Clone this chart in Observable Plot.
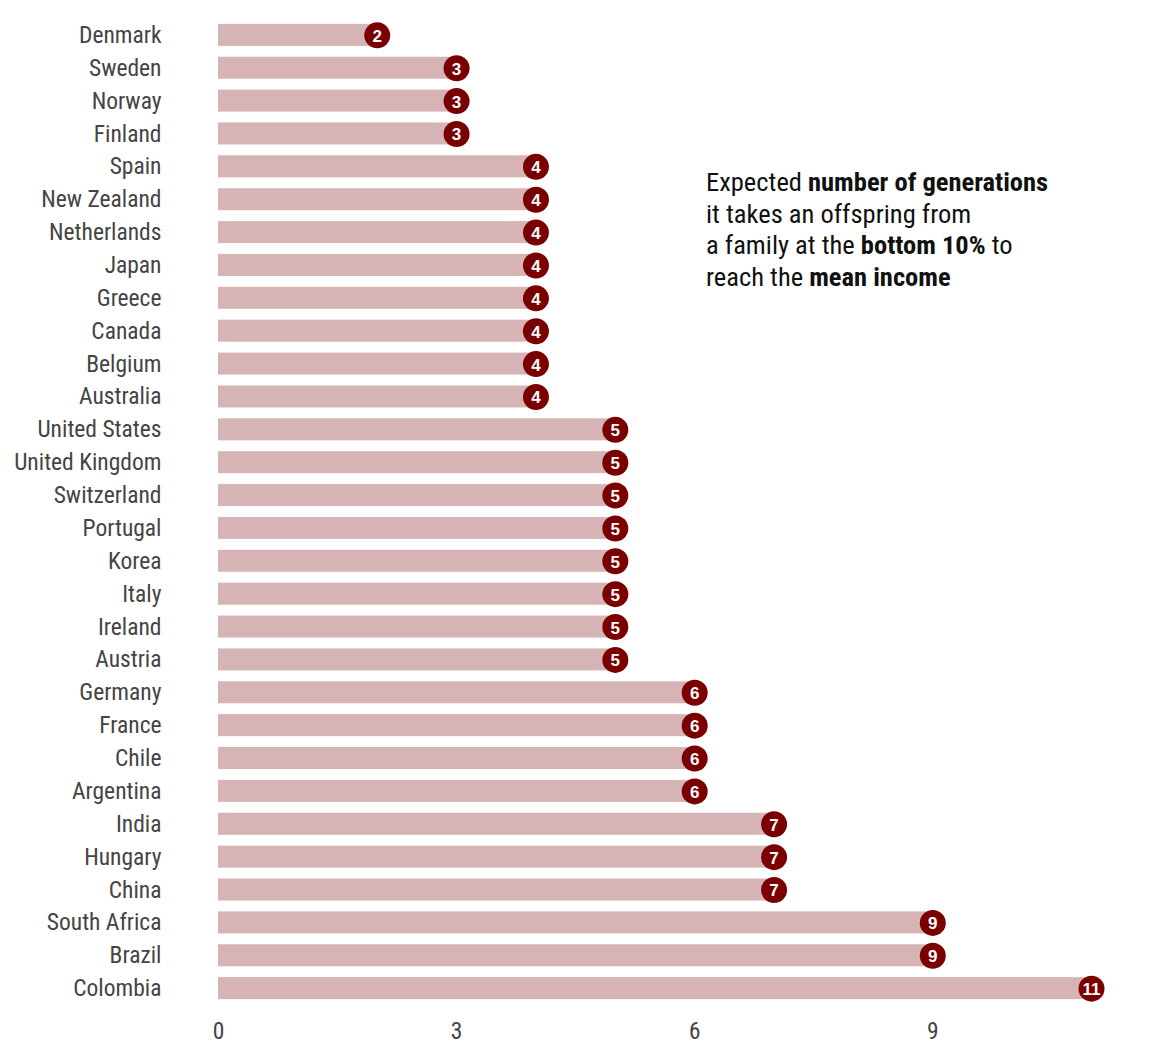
<!DOCTYPE html>
<html>
<head>
<meta charset="utf-8">
<script src="https://cdn.jsdelivr.net/npm/d3@7"></script>
<script src="https://cdn.jsdelivr.net/npm/@observablehq/plot@0.6"></script>
<style>
  body { margin: 0; background: #fff; }
  #chart svg { display: block; }
</style>
</head>
<body>
<div id="chart"></div>
<script>
const countries = ["Denmark","Sweden","Norway","Finland","Spain","New Zealand","Netherlands","Japan","Greece","Canada","Belgium","Australia","United States","United Kingdom","Switzerland","Portugal","Korea","Italy","Ireland","Austria","Germany","France","Chile","Argentina","India","Hungary","China","South Africa","Brazil","Colombia"];
const generations = [2,3,3,3,4,4,4,4,4,4,4,4,5,5,5,5,5,5,5,5,6,6,6,6,7,7,7,9,9,11];
const xTicks = [0,3,6,9];
const noteLines = [
  [["Expected ", false], ["number of generations", true]],
  [["it takes an offspring from", false]],
  [["a family at the ", false], ["bottom 10%", true], [" to", false]],
  [["reach the ", false], ["mean income", true]]
];

const data = countries.map((c, i) => ({country: c, value: generations[i]}));
const FONT = "'Roboto Condensed', 'Liberation Sans Narrow', 'Arial Narrow', Roboto, sans-serif";

const chart = Plot.plot({
  width: 1152,
  height: 1056,
  marginLeft: 218,
  marginRight: 61,
  marginTop: 13,
  marginBottom: 46,
  style: {fontFamily: FONT, fontSize: "23.5px", color: "#444", background: "#fff"},
  x: {domain: [0, 11], ticks: xTicks, tickSize: 0, tickPadding: 12, label: null, tickFormat: d3.format("d")},
  y: {domain: countries, padding: 0.33, round: false, tickSize: 0, tickPadding: 57, label: null},
  marks: [
    Plot.barX(data, {x: "value", y: "country", fill: "#d6b4b6"}),
    Plot.dot(data, {x: "value", y: "country", r: 13, fill: "#7a0000", stroke: "none"}),
    Plot.text(data, {x: "value", y: "country", text: d => String(d.value), fill: "#fff",
      fontWeight: "bold", fontSize: 17, fontFamily: "'Liberation Sans', Arial, sans-serif", dy: 1})
  ]
});

document.getElementById("chart").appendChild(chart);

const svg = d3.select(chart);
const note = svg.append("text")
  .attr("font-family", FONT)
  .attr("font-size", 26.5)
  .attr("text-anchor", "start")
  .attr("fill", "#111");
noteLines.forEach((line, i) => {
  line.forEach(([t, b], j) => {
    const ts = note.append("tspan").text(t).attr("font-weight", b ? "bold" : "normal");
    if (j === 0) ts.attr("x", 706).attr("y", 191 + i * 31.7);
  });
});
</script>
</body>
</html>
